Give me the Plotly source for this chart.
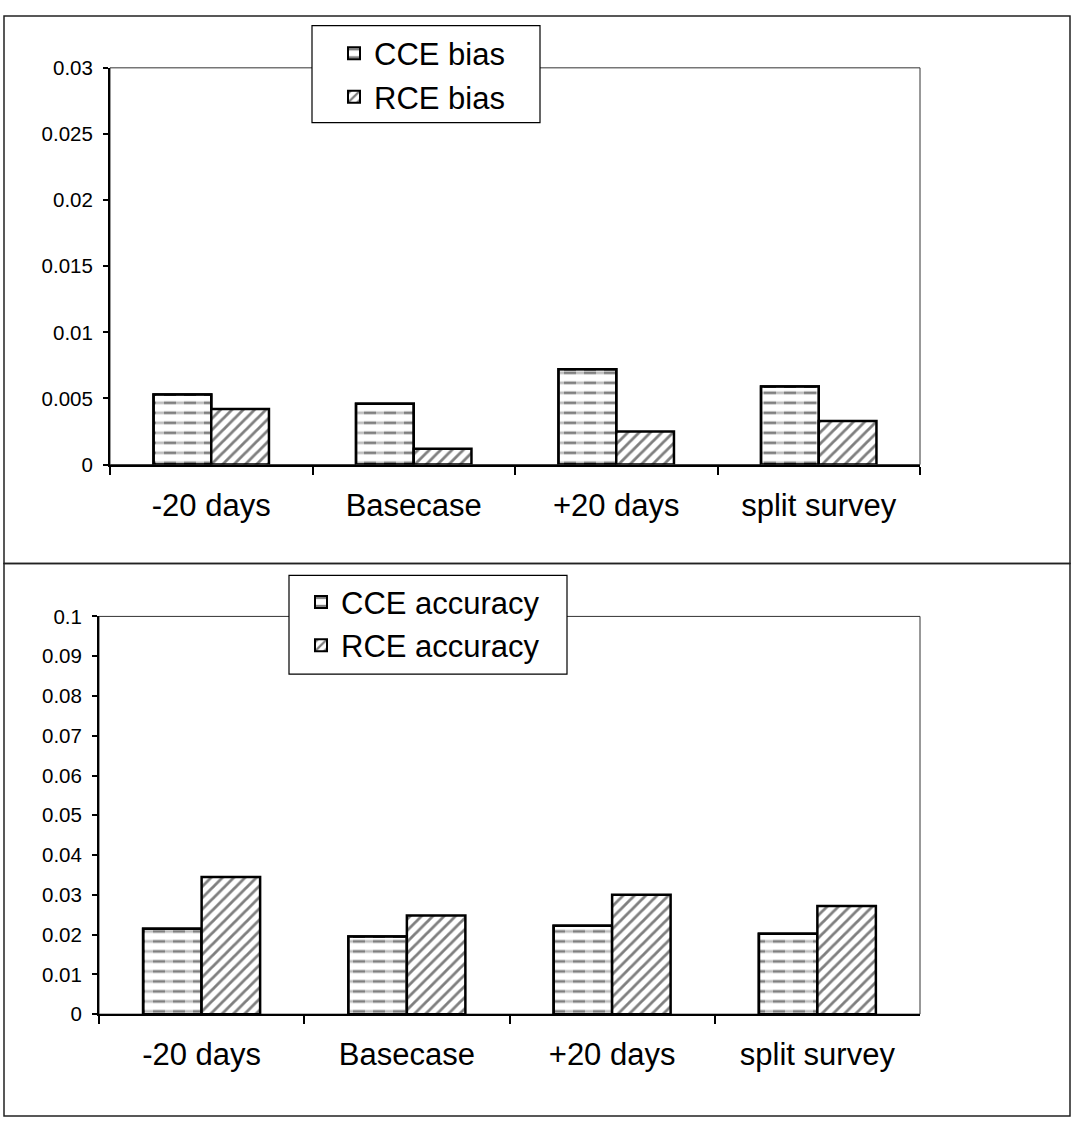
import plotly.graph_objects as go

# Scenario categories shared by both panels
categories = ["-20 days", "Basecase", "+20 days", "split survey"]

# Bias of the two estimators
cce_bias = [0.0053, 0.0046, 0.0072, 0.0059]
rce_bias = [0.0042, 0.0012, 0.0025, 0.0033]

# Accuracy of the two estimators
cce_accuracy = [0.0215, 0.0195, 0.0222, 0.0202]
rce_accuracy = [0.0345, 0.0248, 0.0300, 0.0272]

# Y tick values / labels
bias_ticks = [0, 0.005, 0.01, 0.015, 0.02, 0.025, 0.03]
bias_tick_text = ["0", "0.005", "0.01", "0.015", "0.02", "0.025", "0.03"]
acc_ticks = [0, 0.01, 0.02, 0.03, 0.04, 0.05, 0.06, 0.07, 0.08, 0.09, 0.1]
acc_tick_text = ["0", "0.01", "0.02", "0.03", "0.04", "0.05", "0.06", "0.07",
                 "0.08", "0.09", "0.1"]

W, H = 1071, 1128
FONT = "Liberation Sans, Arial, sans-serif"
BAR_W = 0.285


def px_x(v):
    return v / W


def px_y(v):
    return 1 - v / H


fig = go.Figure()


def add_pair(xa, ya, cce_vals, rce_vals, cce_name, rce_name, legend):
    # dashed-line fill: horizontal lines, then white vertical stripes cut them into dashes
    fig.add_trace(go.Bar(
        x=categories, y=cce_vals, name=cce_name, xaxis=xa, yaxis=ya,
        width=BAR_W, offset=-BAR_W, legend=legend,
        marker=dict(color="black",
                    line=dict(color="black", width=2.5),
                    pattern=dict(shape="-", fgcolor="black", bgcolor="white",
                                 size=10, solidity=0.28)),
    ))
    fig.add_trace(go.Bar(
        x=categories, y=cce_vals, xaxis=xa, yaxis=ya, showlegend=False,
        width=BAR_W, offset=-BAR_W, hoverinfo="skip",
        marker=dict(color="rgba(0,0,0,0)", line=dict(width=0),
                    pattern=dict(shape="|", fgcolor="white",
                                 bgcolor="rgba(0,0,0,0)", size=20,
                                 solidity=0.4)),
    ))
    fig.add_trace(go.Bar(
        x=categories, y=cce_vals, xaxis=xa, yaxis=ya, showlegend=False,
        width=BAR_W, offset=-BAR_W, hoverinfo="skip",
        marker=dict(color="rgba(0,0,0,0)",
                    line=dict(color="black", width=2.5)),
    ))
    fig.add_trace(go.Bar(
        x=categories, y=rce_vals, name=rce_name, xaxis=xa, yaxis=ya,
        width=BAR_W, offset=0, legend=legend,
        marker=dict(color="black",
                    line=dict(color="black", width=2.5),
                    pattern=dict(shape="/", fgcolor="black", bgcolor="white",
                                 size=8, solidity=0.35)),
    ))


add_pair("x", "y", cce_bias, rce_bias, "CCE bias", "RCE bias", "legend")
add_pair("x2", "y2", cce_accuracy, rce_accuracy, "CCE accuracy", "RCE accuracy",
         "legend2")

xaxis_common = dict(
    type="category", showline=True, linecolor="black", linewidth=2,
    ticks="outside", tickson="boundaries", ticklen=8, tickwidth=1.5,
    tickcolor="black", showgrid=False, zeroline=False,
    tickfont=dict(family=FONT, size=31, color="black"),
    ticklabelstandoff=12, fixedrange=True,
)
yaxis_common = dict(
    showline=True, linecolor="black", linewidth=2, ticks="outside",
    ticklen=5, tickwidth=1.5, tickcolor="black", showgrid=False,
    zeroline=False, tickfont=dict(family=FONT, size=20.5, color="black"),
    ticklabelstandoff=6, fixedrange=True,
)

legend_common = dict(
    bgcolor="rgba(0,0,0,0)", borderwidth=0,
    font=dict(family=FONT, size=31, color="black"),
    xanchor="left", yanchor="top", tracegroupgap=0,
    itemsizing="constant",
)

fig.update_layout(
    width=W, height=H, margin=dict(l=0, r=0, t=0, b=0),
    paper_bgcolor="white", plot_bgcolor="white",
    barmode="overlay", showlegend=True,
    xaxis=dict(domain=[px_x(110), px_x(920)], anchor="y", **xaxis_common),
    yaxis=dict(domain=[px_y(462), px_y(57)], anchor="x", range=[0, 0.03],
               tickvals=bias_ticks, ticktext=bias_tick_text, **yaxis_common),
    xaxis2=dict(domain=[px_x(99), px_x(920)], anchor="y2", **xaxis_common),
    yaxis2=dict(domain=[px_y(1023), px_y(617)], anchor="x2", range=[0, 0.1],
                tickvals=acc_ticks, ticktext=acc_tick_text, **yaxis_common),
    legend=dict(x=px_x(334), y=px_y(15), **legend_common),
    legend2=dict(x=px_x(301), y=px_y(575), **legend_common),
)

# plot-area borders (top/right edges)
for xr, yr in (("x domain", "y domain"), ("x2 domain", "y2 domain")):
    fig.add_shape(type="rect", xref=xr, yref=yr, x0=0, x1=1, y0=0, y1=1,
                  line=dict(color="#333", width=1), layer="below")

# legend boxes
for x0, x1, y0, y1 in ((312, 540, 14, 113), (289, 567, 575, 676)):
    fig.add_shape(type="rect", xref="paper", yref="paper",
                  x0=px_x(x0), x1=px_x(x1), y0=px_y(y1), y1=px_y(y0),
                  line=dict(color="black", width=1.2), fillcolor="white",
                  layer="above")

# panel frames
fig.add_shape(type="rect", xref="paper", yref="paper",
              x0=px_x(4), x1=px_x(1070), y0=px_y(563), y1=px_y(4),
              line=dict(color="#222", width=1.5))
fig.add_shape(type="rect", xref="paper", yref="paper",
              x0=px_x(4), x1=px_x(1070), y0=px_y(1127), y1=px_y(563),
              line=dict(color="#222", width=1.5))

fig.write_html("out.html", config={"displayModeBar": False})
